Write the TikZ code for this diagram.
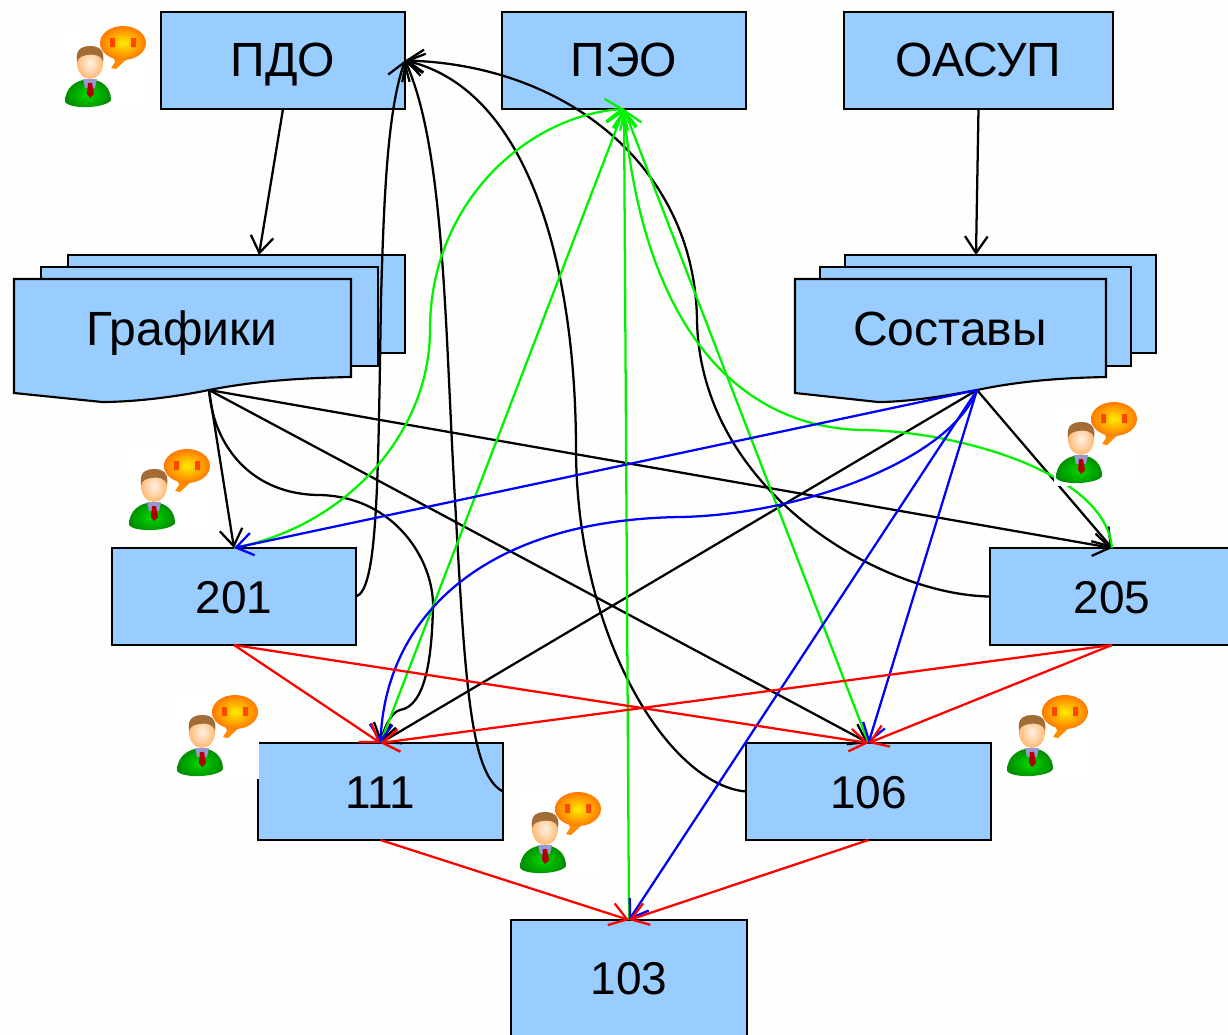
\documentclass[tikz,border=0pt]{standalone}
\usepackage{fontspec}
\setmainfont{Liberation Sans}
\usetikzlibrary{arrows.meta}
\definecolor{boxblue}{HTML}{99CCFF}
\definecolor{paper}{HTML}{FEFEFC}
\tikzset{
  px/.style={x=0.75pt,y=-0.75pt},
  boxnode/.style={draw=black,fill=boxblue,line width=1.6pt,inner sep=0pt,outer sep=0pt,
    minimum width=#1*0.75pt,minimum height=72.75pt,text height=25.5pt,text depth=0pt,
    font=\fontsize{36}{40}\selectfont},
  toprow/.style={text depth=2pt},
  numbered/.style={font=\fontsize{34.5}{40}\selectfont},
  docsheet/.style={draw=black,fill=boxblue,line width=1.6pt,line join=miter},
  doctext/.style={inner sep=0pt,text height=25.5pt,text depth=0pt,font=\fontsize{36}{40}\selectfont},
  conn/.style={-{Straight Barb[length=12.5pt,width=17pt,line width=1.7pt]},line width=1.7pt,shorten >=0pt},
  cblack/.style={conn,draw=black},
  cgreen/.style={conn,draw=green!95!black},
  cblue/.style={conn,draw=blue},
  cred/.style={conn,draw=red},
  pics/usericon/.style={code={
    \fill[white] (0,0) rectangle (84,84);
    \fill[orange!90!yellow] (50,30) -- (66,31) -- (53,43) -- (48,42) -- (52,36) -- cycle;
    \shade[inner color=yellow!85!orange,outer color=orange!95!red] (60,17) ellipse [x radius=23,y radius=17];
    \fill[orange!55!red] (47,12) rectangle (52,21) (68,12) rectangle (73,21);
    \shade[inner color=green!85!black,outer color=green!55!black] (2,76)
      .. controls (2,62) and (12,54) .. (26,53)
      .. controls (40,54) and (48,62) .. (48,74)
      .. controls (44,82) and (8,84) .. (2,76) -- cycle;
    \fill[black!45!blue!40] (20,53) -- (34,53) -- (32,62) -- (22,62) -- cycle;
    \fill[red!70!black] (25,57) -- (29,57) -- (31,68) -- (27,72) -- (24,68) -- cycle;
    \shade[inner color=orange!10,outer color=orange!55] (27,37) ellipse [x radius=13,y radius=16];
    \fill[brown!85!black] (14,36) .. controls (12,22) and (20,20) .. (27,20)
      .. controls (36,20) and (42,24) .. (40,36)
      .. controls (38,28) and (30,28) .. (24,29)
      .. controls (20,30) and (16,30) .. (14,36) -- cycle;
  }},
}
\begin{document}
\begin{tikzpicture}[px]
\useasboundingbox (0,0) rectangle (1228,1035);
\fill[paper] (0,0) rectangle (1228,1035);

% plain boxes
\node[boxnode=244,toprow] (pdo) at (283,60.5) {ПДО};
\node[boxnode=244,toprow] (peo) at (624,60.5) {ПЭО};
\node[boxnode=269,toprow] (oasup) at (978.5,60.5) {ОАСУП};
\node[boxnode=244,numbered] (n201) at (234,596.5) {201};
\node[boxnode=244,numbered] (n205) at (1112,596.5) {205};
\node[boxnode=245,numbered] (n111) at (380.5,791.5) {111};
\node[boxnode=245,numbered] (n106) at (868.5,791.5) {106};
\node[boxnode=236,minimum height=88pt,anchor=north] (n103) at (629,920) {};
\node[doctext,numbered] (t103) at (629,977) {103};

% document stacks
\draw[docsheet] (68,255) rectangle (405,353);
\draw[docsheet] (41,267) rectangle (378,366);
\draw[docsheet] (14,279) -- (351,279) -- (351,377)
  .. controls (300,378) and (255,381) .. (209,390)
  .. controls (170,398) and (130,402) .. (102,402) -- (14,393) -- cycle;
\node[doctext] (graf) at (182,328) {Графики};
\coordinate (grafT) at (259,255);
\coordinate (grafB) at (209,390);

\draw[docsheet] (845,255) rectangle (1156,353);
\draw[docsheet] (820,267) rectangle (1131,366);
\draw[docsheet] (795,279) -- (1106,279) -- (1106,377)
  .. controls (1060,378) and (1020,381) .. (977,390)
  .. controls (940,397) and (905,402) .. (878,402) -- (795,393) -- cycle;
\node[doctext] (sost) at (950,328) {Составы};
\coordinate (sostT) at (976,255);
\coordinate (sostB) at (977,390);

% black connectors
\draw[cblack] (pdo.south) -- (grafT);
\draw[cblack] (oasup.south) -- (sostT);
\draw[cblack] (grafB) -- (n201.north);
\draw[cblack] (grafB) -- (n106.north);
\draw[cblack] (grafB) -- (n205.north);
\draw[cblack] (grafB) .. controls (214,450) and (255,495) .. (320,495)
  .. controls (395,497) and (433,560) .. (433,605)
  .. controls (432,660) and (425,706) .. (400,710)
  .. controls (392,712) and (385,725) .. (n111.north);
\draw[cblack] (sostB) -- (n111.north);
\draw[cblack] (sostB) -- (n205.north);
\draw[cblack] (n201.east) .. controls (378,590) and (378,480) .. (381,300)
  .. controls (384,190) and (388,110) .. (pdo.east);
\draw[cblack] (n111.east) .. controls (470,775) and (465,680) .. (455,500)
  .. controls (445,330) and (445,150) .. (pdo.east);
\draw[cblack] (n106.west) .. controls (670,785) and (577,640) .. (576,450)
  .. controls (576,270) and (530,90) .. (pdo.east);
\draw[cblack] (n205.west) .. controls (880,595) and (700,490) .. (697,320)
  .. controls (695,170) and (570,65) .. (pdo.east);

% green connectors
\draw[cgreen] (n201.north) .. controls (350,525) and (430,430) .. (430,330)
  .. controls (430,200) and (530,115) .. (peo.south);
\draw[cgreen] (n111.north) -- (peo.south);
\draw[cgreen] (n106.north) -- (peo.south);
\draw[cgreen] (n103.north) -- (peo.south);
\draw[cgreen] (n205.north) .. controls (1105,470) and (950,430) .. (860,430)
  .. controls (720,425) and (640,300) .. (peo.south);

% blue connectors
\draw[cblue] (sostB) -- (n201.north);
\draw[cblue] (sostB) .. controls (950,460) and (800,515) .. (680,517)
  .. controls (480,520) and (385,620) .. (n111.north);
\draw[cblue] (sostB) -- (n106.north);
\draw[cblue] (sostB) -- (n103.north);

% red connectors
\draw[cred] (n201.south) -- (n111.north);
\draw[cred] (n201.south) -- (n106.north);
\draw[cred] (n205.south) -- (n111.north);
\draw[cred] (n205.south) -- (n106.north);
\draw[cred] (n111.south) -- (n103.north);
\draw[cred] (n106.south) -- (n103.north);

% icons, on top
\pic (ic1) at (63,26) {usericon};
\pic (ic2) at (127,449) {usericon};
\pic (ic3) at (1054,402) {usericon};
\pic (ic4) at (175,695) {usericon};
\pic (ic5) at (518,792) {usericon};
\pic (ic6) at (1005,695) {usericon};
\end{tikzpicture}
\end{document}
